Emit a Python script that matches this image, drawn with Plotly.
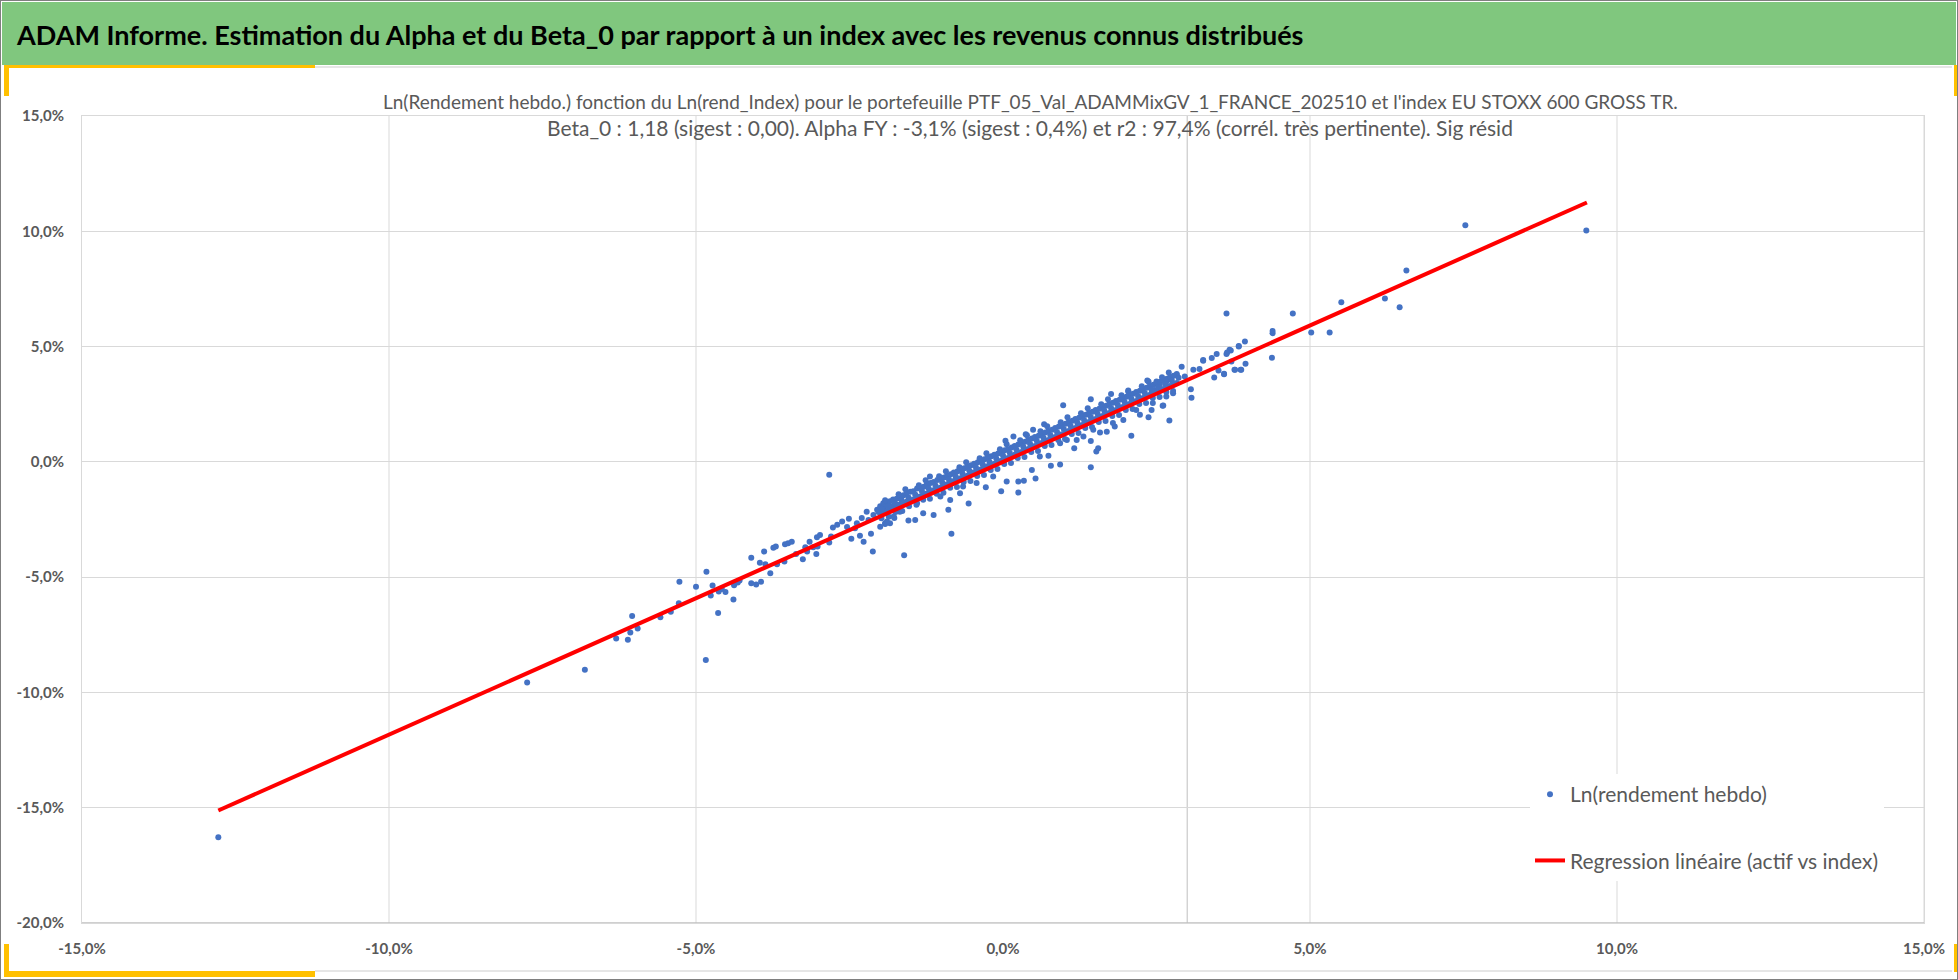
import plotly.graph_objects as go

W, H = 1958, 980

HEADER = "ADAM Informe. Estimation du Alpha et du Beta_0 par rapport à un index avec les revenus connus distribués"
TITLE_1 = ("Ln(Rendement hebdo.) fonction du Ln(rend_Index) pour le portefeuille "
           "PTF_05_Val_ADAMMixGV_1_FRANCE_202510 et l'index EU STOXX 600 GROSS TR.")
TITLE_2 = ("Beta_0 : 1,18 (sigest : 0,00). Alpha FY : -3,1% (sigest : 0,4%) et r2 : 97,4% "
           "(corrél. très pertinente). Sig résid")
NAME_PTS = "Ln(rendement hebdo)"
NAME_REG = "Regression linéaire (actif vs index)"

# (ln rend index %, ln rend portefeuille %)
pts_left_tail = [
    (-12.78, -16.28), (-7.75, -9.57), (-6.81, -9.02), (-4.84, -8.59), (-6.30, -7.66),
    (-6.11, -7.72), (-6.07, -7.40), (-5.95, -7.23), (-6.04, -6.68), (-5.58, -6.74),
    (-5.41, -6.50), (-5.28, -6.13), (-5.27, -5.20), (-5.00, -5.42), (-4.83, -4.77),
    (-4.76, -5.80), (-4.73, -5.36), (-4.64, -6.56), (-4.63, -5.62), (-4.58, -5.51),
    (-4.52, -5.64), (-4.39, -5.97), (-4.38, -5.35), (-4.32, -5.23), (-4.29, -5.15),
    (-4.10, -5.26), (-4.02, -5.32), (-3.94, -5.20), (-4.10, -4.16), (-3.96, -4.38),
    (-3.87, -4.44), (-3.89, -3.89), (-3.79, -4.83), (-3.74, -3.72), (-3.70, -3.67),
    (-3.68, -4.44), (-3.56, -4.32), (-3.55, -3.57), (-3.50, -3.53), (-3.44, -3.46),
    (-3.37, -4.00), (-3.26, -4.22), (-3.22, -3.70), (-3.19, -3.89), (-3.15, -3.46),
    (-3.09, -3.70), (-3.04, -4.00), (-3.02, -3.67), (-3.03, -3.27), (-2.98, -3.17),
    (-2.83, -0.56), (-2.83, -3.50), (-2.80, -3.24), (-2.77, -2.85), (-2.70, -2.73),
    (-2.62, -2.59), (-2.54, -2.83), (-2.51, -2.47), (-2.47, -3.34), (-2.41, -2.88),
    (-2.33, -3.21), (-2.27, -3.46), (-2.22, -2.16), (-2.15, -3.12), (-2.12, -3.89),
    (-2.05, -2.08), (-2.00, -2.81), (-1.92, -2.66), (-1.87, -1.86), (-1.77, -2.44),
    (-2.38, -2.66), (-2.30, -2.44), (-2.19, -2.52), (-2.11, -2.30), (-2.03, -2.16),
    (-1.95, -2.01), (-1.89, -2.16), (-1.81, -1.94), (-1.73, -1.86),
]

pts_spread = [
    (-1.61, -4.05), (-0.84, -3.12), (0.25, -1.33), (-0.03, -1.27), (-0.56, -1.81),
    (-0.28, -1.10), (-0.89, -2.08), (-1.13, -2.30), (-1.30, -2.23), (-1.43, -2.52),
    (-1.54, -2.54), (-1.84, -2.66), (-1.92, -2.69), (0.53, -0.72), (0.34, -0.82),
    (0.78, -0.17), (0.93, -0.12), (1.43, -0.23), (1.55, 0.59), (1.52, 0.45),
    (1.16, 0.59), (1.43, 0.91), (1.58, 1.27), (1.69, 1.31), (2.09, 1.13),
    (1.82, 1.53), (2.23, 2.04), (2.37, 1.94), (2.71, 1.79), (2.60, 2.43),
    (2.42, 2.25), (3.06, 3.15), (3.07, 2.78), (0.98, 2.46), (1.43, 2.72),
    (1.76, 2.94), (2.04, 3.05), (2.35, 3.53), (2.50, 3.48), (0.04, 0.92),
    (0.37, 1.20), (0.67, 1.63), (-0.36, 0.06), (-1.23, -0.95),
    (-0.86, -1.65), (-0.70, -1.36), (-0.43, -0.92), (-0.16, -0.64), (0.06, -0.85),
    (0.25, -0.85), (0.60, 0.23), (0.74, 0.26), (0.47, -0.35), (1.20, 0.95),
    (1.31, 1.10), (1.79, 1.68), (1.96, 1.82), (2.17, 2.25), (-0.65, -1.07),
    (-1.02, -1.50), (-1.40, -1.79), (-1.68, -2.16), (-1.78, -2.37), (-1.89, -2.59),
    (0.93, 0.81), (1.04, 0.95), (1.47, 1.39), (2.44, 2.55), (2.66, 2.83),
    (2.77, 2.98), (0.17, 1.10), (0.49, 1.39), (-1.19, -0.64), (-0.67, -0.35),
]

pts_right_tail = [
    (3.44, 3.66), (3.60, 3.80), (3.77, 3.99), (3.87, 3.99), (3.95, 4.25),
    (3.51, 3.96), (4.38, 4.52), (4.39, 5.58), (3.94, 5.22), (3.84, 5.03),
    (3.69, 4.86), (3.64, 4.68), (3.48, 4.68), (3.40, 4.50), (3.26, 4.38),
    (3.10, 3.99), (3.20, 4.03), (2.91, 4.13), (2.83, 3.77), (3.72, 4.35),
    (3.64, 6.43), (4.72, 6.43), (4.39, 5.68), (5.02, 5.61), (5.32, 5.61),
    (5.51, 6.92), (6.22, 7.08), (6.46, 6.71), (6.57, 8.30), (7.53, 10.26),
    (9.50, 10.03), (3.84, 5.00), (3.88, 3.99), (3.78, 3.99), (3.71, 4.83),
    (3.65, 4.74), (3.60, 3.82), (3.26, 4.42), (2.61, 2.44), (2.96, 3.70),
    (2.74, 3.59), (2.66, 3.48), (2.55, 3.34), (2.47, 3.12), (2.42, 2.98),
]

# bande dense autour de la droite
pts_band = [
    (-2.00, -1.93), (-2.00, -2.24), (-1.95, -1.80), (-1.95, -2.15), (-1.90, -1.85), (-1.90, -2.13),
    (-1.84, -1.71), (-1.84, -2.06), (-1.79, -1.63), (-1.79, -1.97), (-1.73, -1.60), (-1.73, -1.99),
    (-1.68, -1.49), (-1.68, -1.86), (-1.62, -1.45), (-1.62, -1.80), (-1.57, -1.36), (-1.57, -1.73),
    (-1.51, -1.30), (-1.51, -1.69), (-1.46, -1.27), (-1.46, -1.63), (-1.40, -1.16), (-1.40, -1.55),
    (-1.35, -1.11), (-1.35, -1.50), (-1.29, -1.08), (-1.29, -1.44), (-1.24, -0.97), (-1.24, -1.37),
    (-1.18, -0.92), (-1.18, -1.32), (-1.13, -0.87), (-1.13, -1.23), (-1.07, -0.79), (-1.07, -1.16),
    (-1.02, -0.71), (-1.02, -1.12), (-0.96, -0.68), (-0.96, -1.05), (-0.91, -0.59), (-0.91, -0.97),
    (-0.85, -0.54), (-0.85, -0.92), (-0.80, -0.46), (-0.80, -0.83), (-0.74, -0.41), (-0.74, -0.79),
    (-0.69, -0.33), (-0.69, -0.71), (-0.63, -0.28), (-0.63, -0.65), (-0.58, -0.20), (-0.58, -0.60),
    (-0.52, -0.15), (-0.52, -0.53), (-0.47, -0.08), (-0.47, -0.45), (-0.41, -0.02), (-0.41, -0.40),
    (-0.36, 0.05), (-0.36, -0.33), (-0.30, 0.11), (-0.30, -0.27), (-0.25, 0.19), (-0.25, -0.19),
    (-0.19, 0.24), (-0.19, -0.14), (-0.14, 0.31), (-0.14, -0.08), (-0.08, 0.36), (-0.08, -0.01),
    (-0.03, 0.43), (-0.03, 0.05), (0.03, 0.50), (0.03, 0.11), (0.08, 0.55), (0.08, 0.17),
    (0.14, 0.62), (0.14, 0.24), (0.19, 0.69), (0.19, 0.31), (0.25, 0.75), (0.25, 0.37),
    (0.30, 0.83), (0.30, 0.43), (0.36, 0.87), (0.36, 0.50), (0.41, 0.95), (0.41, 0.56),
    (0.47, 1.01), (0.47, 0.63), (0.52, 1.08), (0.52, 0.69), (0.58, 1.13), (0.58, 0.76),
    (0.63, 1.21), (0.63, 0.82), (0.69, 1.27), (0.69, 0.89), (0.74, 1.34), (0.74, 0.95),
    (0.80, 1.39), (0.80, 1.02), (0.85, 1.47), (0.85, 1.08), (0.91, 1.53), (0.91, 1.15),
    (0.96, 1.60), (0.96, 1.20), (1.02, 1.65), (1.02, 1.28), (1.07, 1.73), (1.07, 1.34),
    (1.13, 1.78), (1.13, 1.41), (1.18, 1.86), (1.18, 1.47), (1.24, 1.91), (1.24, 1.54),
    (1.29, 1.99), (1.29, 1.60), (1.35, 2.04), (1.35, 1.67), (1.40, 2.12), (1.40, 1.73),
    (1.46, 2.17), (1.46, 1.80), (1.51, 2.25), (1.51, 1.86), (1.57, 2.30), (1.57, 1.93),
    (1.62, 2.38), (1.62, 1.99), (1.68, 2.43), (1.68, 2.06), (1.73, 2.51), (1.73, 2.12),
    (1.79, 2.56), (1.79, 2.19), (1.84, 2.64), (1.84, 2.25), (1.90, 2.69), (1.90, 2.32),
    (1.95, 2.77), (1.95, 2.38), (2.01, 2.82), (2.01, 2.45), (2.06, 2.90), (2.06, 2.51),
    (2.12, 2.95), (2.12, 2.58), (2.17, 3.03), (2.17, 2.64), (2.23, 3.08), (2.23, 2.71),
    (2.28, 3.16), (2.28, 2.77), (2.34, 3.21), (2.34, 2.84), (2.39, 3.29), (2.39, 2.90),
    (2.45, 3.34), (2.45, 2.97), (2.50, 3.42), (2.50, 3.03), (2.56, 3.47), (2.56, 3.10),
    (2.61, 3.55), (2.61, 3.16), (2.67, 3.60), (2.67, 3.23), (2.72, 3.68), (2.72, 3.29),
    (2.78, 3.73), (2.78, 3.36), (2.83, 3.81), (2.83, 3.42),
    (-1.97, -2.05), (-1.87, -1.92), (-1.76, -1.81), (-1.65, -1.67), (-1.54, -1.55), (-1.43, -1.42),
    (-1.32, -1.27), (-1.21, -1.16), (-1.10, -1.02), (-0.99, -0.90), (-0.88, -0.76), (-0.77, -0.63),
    (-0.66, -0.51), (-0.55, -0.37), (-0.44, -0.24), (-0.33, -0.12), (-0.22, 0.01), (-0.11, 0.15),
    (0.00, 0.28), (0.11, 0.40), (0.22, 0.53), (0.33, 0.66), (0.44, 0.79), (0.55, 0.92),
    (0.66, 1.05), (0.77, 1.17), (0.88, 1.30), (0.99, 1.43), (1.10, 1.57), (1.21, 1.70),
    (1.32, 1.82), (1.43, 1.95), (1.54, 2.09), (1.65, 2.22), (1.76, 2.34), (1.87, 2.47),
    (1.98, 2.61), (2.09, 2.74), (2.20, 2.86), (2.31, 2.99), (2.42, 3.13), (2.53, 3.25),
    (2.64, 3.38), (2.75, 3.52), (2.86, 3.65),
    (-1.98, -2.45), (-1.86, -2.38), (-1.75, -2.18), (-1.64, -2.13), (-1.53, -1.92), (-1.41, -1.86),
    (-1.30, -1.64), (-1.19, -1.60), (-1.08, -1.38), (-0.97, -1.34), (-0.86, -1.12), (-0.75, -1.09),
    (-0.64, -0.87), (-0.53, -0.83), (-0.42, -0.61), (-0.31, -0.57), (-0.20, -0.35), (-0.09, -0.31),
    (0.02, -0.09), (0.13, -0.05), (0.24, 0.17), (0.35, 0.21), (0.46, 0.43), (0.57, 0.47),
    (0.68, 0.69), (0.79, 0.73), (0.90, 0.95), (1.01, 0.99), (1.12, 1.21), (1.23, 1.25),
    (1.34, 1.47), (1.45, 1.51), (1.56, 1.73), (1.67, 1.77), (1.78, 1.99), (1.89, 2.03),
    (2.00, 2.25), (2.11, 2.29), (2.22, 2.51), (2.33, 2.55), (2.44, 2.77), (2.55, 2.81),
    (2.66, 3.03), (2.77, 3.07),
    (-1.92, -1.66), (-1.70, -1.40), (-1.59, -1.19), (-1.37, -1.01), (-1.26, -0.80), (-1.04, -0.62),
    (-0.93, -0.41), (-0.71, -0.23), (-0.60, -0.02), (-0.38, 0.16), (-0.27, 0.37), (-0.05, 0.55),
    (0.06, 0.76), (0.28, 0.94), (0.39, 1.15), (0.61, 1.33), (0.72, 1.54), (0.94, 1.72),
    (1.05, 1.93), (1.27, 2.11), (1.38, 2.32), (1.60, 2.50), (1.71, 2.71), (1.93, 2.89),
    (2.04, 3.10), (2.26, 3.28), (2.37, 3.49), (2.59, 3.67), (2.70, 3.88),
]

# droite de régression (extrémités lues)
reg_x = [-12.78, 9.51]
reg_y = [-15.12, 11.25]

x_ticks = [-15, -10, -5, 0, 5, 10, 15]
x_tick_text = ["-15,0%", "-10,0%", "-5,0%", "0,0%", "5,0%", "10,0%", "15,0%"]
y_ticks = [-20, -15, -10, -5, 0, 5, 10, 15]
y_tick_text = ["-20,0%", "-15,0%", "-10,0%", "-5,0%", "0,0%", "5,0%", "10,0%", "15,0%"]
x_grid = [-10, -5, 5, 10, 15]
y_axis_cross = 3  # position de l'axe vertical

all_pts = pts_left_tail + pts_spread + pts_right_tail + pts_band
pts_x = [p[0] for p in all_pts]
pts_y = [p[1] for p in all_pts]

GRID = "#D9D9D9"
TXT = "#595959"
FONT = "Lato, 'Open Sans', sans-serif"


# pixels de la page -> coordonnées papier
def fx(x):
    return x / W


def fy(y):
    return 1 - y / H


def rect(x0, y0, x1, y1, color):
    return dict(type="rect", xref="paper", yref="paper",
                x0=fx(x0), x1=fx(x1), y0=fy(y1), y1=fy(y0),
                fillcolor=color, line_width=0, layer="above")


shapes = [
    rect(2, 2, 1956, 65, "#80C77E"),
    rect(8, 66, 1952, 68, "#E6E6E6"),
    rect(4, 65, 9, 96, "#FFC000"),
    rect(4, 65, 315, 68, "#FFC000"),
    rect(1954, 65, 1957, 96, "#FFC000"),
    rect(4, 944, 9, 977, "#FFC000"),
    rect(4, 971, 315, 977, "#FFC000"),
    rect(315, 970, 1952, 972, "#E6E6E6"),
    rect(1954, 944, 1957, 972, "#FFC000"),
    dict(type="rect", xref="paper", yref="paper", x0=0, x1=1, y0=0, y1=1,
         line=dict(color="#7F7F7F", width=2), layer="above"),
]
for gx in x_grid:
    shapes.append(dict(type="line", xref="x", yref="y", x0=gx, x1=gx, y0=-20, y1=15,
                       line=dict(color=GRID, width=1), layer="below"))
shapes.append(dict(type="line", xref="x", yref="y", x0=y_axis_cross, x1=y_axis_cross,
                   y0=-20, y1=15, line=dict(color="#BFBFBF", width=1), layer="below"))
shapes.append(dict(type="line", xref="x", yref="y", x0=-15, x1=15, y0=-20, y1=-20,
                   line=dict(color="#BFBFBF", width=1.5), layer="below"))

fig = go.Figure(data=[
    go.Scatter(name=NAME_PTS,
               x=pts_x,
               y=pts_y,
               mode="markers",
               marker=dict(color="#4472C4", size=6),
               legendgroup="a",
               ),
    go.Scatter(name=NAME_REG,
               x=reg_x,
               y=reg_y,
               mode="lines",
               line=dict(color="#FF0000", width=4),
               legendgroup="b",
               ),
])

tick_font = dict(family=FONT, size=15, color=TXT, weight="bold")

fig.update_layout(
    autosize=True,
    margin=dict(l=0, r=0, t=0, b=0),
    paper_bgcolor="white",
    plot_bgcolor="white",
    font=dict(family=FONT, size=15, color=TXT),
    shapes=shapes,
    showlegend=True,
    legend=dict(
        x=fx(1530),
        y=fy(774),
        xanchor="left",
        yanchor="top",
        bgcolor="white",
        font=dict(size=21, color=TXT),
        traceorder="grouped",
        tracegroupgap=36,
    ),
    xaxis=dict(
        domain=[fx(82), fx(1924)],
        range=[-15, 15],
        tickvals=x_ticks,
        ticktext=x_tick_text,
        showgrid=False,
        zeroline=False,
        showline=True,
        mirror=True,
        linecolor=GRID,
        ticks="",
        ticklen=0,
        ticklabelstandoff=12,
        tickfont=tick_font,
        automargin=False,
    ),
    yaxis=dict(
        domain=[fy(923), fy(116)],
        range=[-20, 15],
        tickvals=y_ticks,
        ticktext=y_tick_text,
        showgrid=True,
        gridcolor=GRID,
        zeroline=False,
        showline=True,
        mirror=True,
        linecolor=GRID,
        ticks="",
        ticklen=0,
        ticklabelstandoff=14,
        tickfont=tick_font,
        automargin=False,
    ),
    annotations=[
        dict(text="<b>" + HEADER + "</b>", xref="paper", yref="paper",
             x=fx(14), y=fy(35), xanchor="left", yanchor="middle", showarrow=False,
             font=dict(family=FONT, size=27, color="black")),
        dict(text=TITLE_1, xref="paper", yref="paper",
             x=fx(1030), y=fy(101), xanchor="center", yanchor="middle", showarrow=False,
             font=dict(family=FONT, size=19, color=TXT)),
        dict(text=TITLE_2, xref="paper", yref="paper",
             x=fx(1030), y=fy(127), xanchor="center", yanchor="middle", showarrow=False,
             font=dict(family=FONT, size=21, color=TXT)),
    ],
)

# la figure est fixée sur toute la fenêtre (hors du flux, pas de marge ni de défilement)
fill_window = (
    "document.body.style.margin='0px';"
    "document.documentElement.style.overflow='hidden';"
    "var gd=document.getElementById('{plot_id}');"
    "gd.style.position='fixed';gd.style.left='0px';gd.style.top='0px';"
    "gd.style.width='100vw';gd.style.height='100vh';"
    "Plotly.Plots.resize(gd);"
)

fig.write_html("out.html",
               default_width="100vw",
               default_height="100vh",
               config={"displayModeBar": False, "responsive": True},
               post_script=fill_window)
